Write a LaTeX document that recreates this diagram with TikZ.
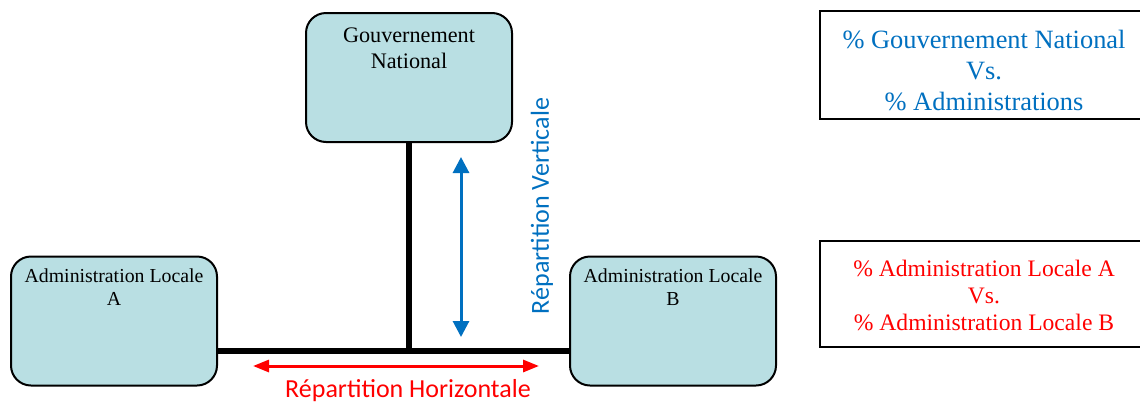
\documentclass[tikz,border=0pt]{standalone}
\usepackage{fontspec}
\setmainfont{Liberation Serif}
\newfontfamily\calibrifont{Carlito}
\usetikzlibrary{arrows.meta}
\definecolor{boxfill}{RGB}{185,223,227}
\definecolor{myblue}{RGB}{0,112,192}
\definecolor{myred}{RGB}{255,0,0}
\begin{document}
\begin{tikzpicture}[x=1pt,y=-1pt,
  entity/.style={draw=black, line width=2pt, fill=boxfill, rounded corners=20pt,
    minimum width=206pt, minimum height=129pt, inner sep=0pt},
  entitytext/.style={align=center, anchor=north, inner sep=0pt},
  ratiobox/.style={draw=black, line width=2pt, minimum width=328pt, inner sep=0pt},
  ratiotext/.style={align=center, inner sep=0pt},
  link/.style={line width=6pt, black},
  varrow/.style={line width=3pt, myblue, {Triangle[length=16pt,width=16pt]}-{Triangle[length=16pt,width=16pt]}},
  harrow/.style={line width=3pt, myred, {Triangle[length=16pt,width=12pt]}-{Triangle[length=16pt,width=12pt]}},
  axislabel/.style={font=\calibrifont\fontsize{26}{30}\selectfont, inner sep=0pt}
]
\clip (0,0) rectangle (1140,405);
\fill[white] (0,0) rectangle (1140,405);

% entity boxes
\node[entity] (gov) at (409,77.5) {};
\node[entity] (la) at (114,321) {};
\node[entity] (lb) at (673,321) {};
\node[entitytext, font=\fontsize{22.2}{26}\selectfont] (govt) at (409,27.3) {Gouvernement\\National};
\node[entitytext, font=\fontsize{19.8}{23.5}\selectfont] (lat) at (114,268.2) {Administration Locale\\A};
\node[entitytext, font=\fontsize{19.8}{23.5}\selectfont] (lbt) at (673,268.2) {Administration Locale\\B};

% connectors
\coordinate (j) at (409.5,351);
\draw[link] (gov.south) -- (gov.south |- j);
\draw[link] (la.east |- j) -- (lb.west |- j);

% arrows
\coordinate (vt) at (461,157);
\coordinate (vb) at (461,337);
\draw[varrow] (vt) -- (vb);
\coordinate (hl) at (253,366);
\coordinate (hr) at (539,366);
\draw[harrow] (hl) -- (hr);

\node[axislabel, text=myblue, rotate=90] (vlabel) at (542,206) {Répartition Verticale};
\node[axislabel, text=myred] (hlabel) at (408,391) {Répartition Horizontale};

% ratio boxes
\node[ratiobox, minimum height=108pt] (r1) at (984,65) {};
\node[ratiotext, text=myblue, font=\fontsize{26.4}{31}\selectfont] (r1t) at (984,71)
  {\% Gouvernement National\\Vs.\\\% Administrations};
\node[ratiobox, minimum height=106pt] (r2) at (984,294) {};
\node[ratiotext, text=myred, font=\fontsize{23.6}{27}\selectfont] (r2t) at (984,295)
  {\% Administration Locale A\\Vs.\\\% Administration Locale B};
\end{tikzpicture}
\end{document}
